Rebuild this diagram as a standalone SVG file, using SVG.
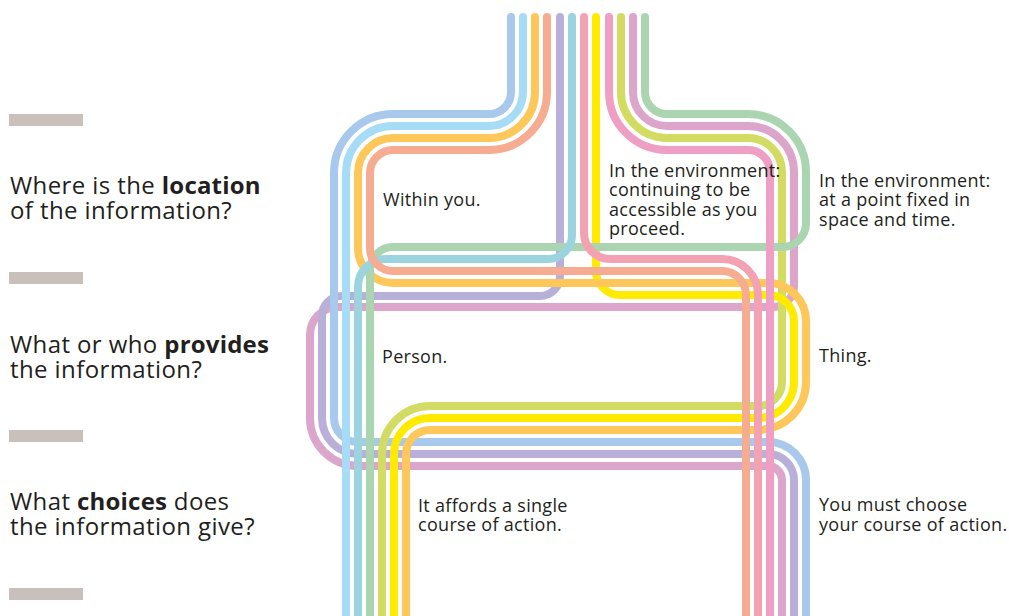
<svg xmlns="http://www.w3.org/2000/svg" width="1009" height="616" viewBox="0 0 1009 616">
<style>
.ln{fill:none;stroke-width:8;stroke-linecap:round;stroke-linejoin:round}
.c1{stroke:#A8C8EC}.c2{stroke:#A6DCF6}.c3{stroke:#FEC759}.c4{stroke:#F6AC91}
.c5{stroke:#B8B0D8}.c6{stroke:#9BD4DF}.c7{stroke:#F2A2B3}.c8{stroke:#FFEA00}
.c9{stroke:#EF9EC4}.c10{stroke:#D2DB62}.c11{stroke:#DCA5CB}.c12{stroke:#AAD5B0}
.bar{fill:#C9BFBB}
.q{font-family:"Open Sans","Noto Sans",sans-serif;font-size:24px;letter-spacing:0.4px;fill:#231F20}
.q .b{font-weight:bold;letter-spacing:0.2px}
.lb{font-family:"Open Sans","Noto Sans",sans-serif;font-size:18px;letter-spacing:0.3px;fill:#231F20}
</style>
<rect width="1009" height="616" fill="#FFFFFF"/>
<g id="connectors">
<path class="ln c11" d="M633,17 V92 A34,34 0 0 0 667,126 H748 A46,46 0 0 1 794,172 V286 A21,21 0 0 1 773,307 H338 A28,28 0 0 0 310,335 V418 A48,48 0 0 0 358,466 H768 A14,14 0 0 1 782,480 V630"/>
<path class="ln c5" d="M560,17 V276 A20,20 0 0 1 540,296 H342 A20,20 0 0 0 322,316 V418 A36,36 0 0 0 358,454 H768 A26,26 0 0 1 794,480 V630"/>
<path class="ln c1" d="M511,17 V92 A22,22 0 0 1 489,114 H393 A59,59 0 0 0 334,173 V418 A24,24 0 0 0 358,442 H768 A38,38 0 0 1 806,480 V630"/>
<path class="ln c10" d="M621,17 V92 A46,46 0 0 0 667,138 H748 A34,34 0 0 1 782,172 V382 A24,24 0 0 1 758,406 H430 A48,48 0 0 0 382,454 V630"/>
<path class="ln c8" d="M596,17 V271 A24,24 0 0 0 620,295 H768 A26,26 0 0 1 794,321 V382 A36,36 0 0 1 758,418 H430 A36,36 0 0 0 394,454 V630"/>
<path class="ln c3" d="M535,17 V92 A46,46 0 0 1 489,138 H393 A35,35 0 0 0 358,173 V248 A35,35 0 0 0 393,283 H768 A38,38 0 0 1 806,321 V382 A48,48 0 0 1 758,430 H430 A24,24 0 0 0 406,454 V630"/>
<path class="ln c12" d="M645,17 V92 A22,22 0 0 0 667,114 H748 A58,58 0 0 1 806,172 V223 A24,24 0 0 1 782,247 H393 A23,23 0 0 0 370,270 V630"/>
<path class="ln c6" d="M572,17 V235 A24,24 0 0 1 548,259 H386 A28,28 0 0 0 358,287 V630"/>
<path class="ln c4" d="M547,17 V92 A58,58 0 0 1 489,150 H393 A23,23 0 0 0 370,173 V248 A23,23 0 0 0 393,271 H722 A24,24 0 0 1 746,295 V630"/>
<path class="ln c7" d="M584,17 V233 A26,26 0 0 0 610,259 H722 A36,36 0 0 1 758,295 V630"/>
<path class="ln c9" d="M609,17 V92 A58,58 0 0 0 667,150 H748 A22,22 0 0 1 770,172 V630"/>
<path class="ln c2" d="M523,17 V92 A34,34 0 0 1 489,126 H393 A47,47 0 0 0 346,173 V630"/>
</g>
<g id="q-location">
<rect class="bar" x="9" y="114" width="74" height="12"/>
<text class="q" x="10" y="194">Where is the <tspan class="b">location</tspan><tspan x="10" dy="25">of the information?</tspan></text>
</g>
<g id="q-provides">
<rect class="bar" x="9" y="272" width="74" height="12"/>
<text class="q" x="10" y="353">What or who <tspan class="b">provides</tspan><tspan x="10" dy="25">the information?</tspan></text>
</g>
<g id="q-choices">
<rect class="bar" x="9" y="430" width="74" height="12"/>
<text class="q" x="10" y="510">What <tspan class="b">choices</tspan> does<tspan x="10" dy="25">the information give?</tspan></text>
<rect class="bar" x="9" y="588" width="74" height="12"/>
</g>
<g id="within-you">
<text class="lb" x="383" y="206">Within you.</text>
</g>
<g id="env-continuing">
<text class="lb" x="609" y="177">In the environment:<tspan x="609" dy="19.3">continuing to be</tspan><tspan x="609" dy="19.3">accessible as you</tspan><tspan x="609" dy="19.3">proceed.</tspan></text>
</g>
<g id="env-fixed">
<text class="lb" x="819" y="187">In the environment:<tspan x="819" dy="19.3">at a point fixed in</tspan><tspan x="819" dy="19.3">space and time.</tspan></text>
</g>
<g id="person">
<text class="lb" x="382" y="363">Person.</text>
</g>
<g id="thing">
<text class="lb" x="819" y="362">Thing.</text>
</g>
<g id="single">
<text class="lb" x="418" y="511.5">It affords a single<tspan x="418" dy="19.5">course of action.</tspan></text>
</g>
<g id="choose">
<text class="lb" x="819" y="511">You must choose<tspan x="819" dy="19.5">your course of action.</tspan></text>
</g>
</svg>
